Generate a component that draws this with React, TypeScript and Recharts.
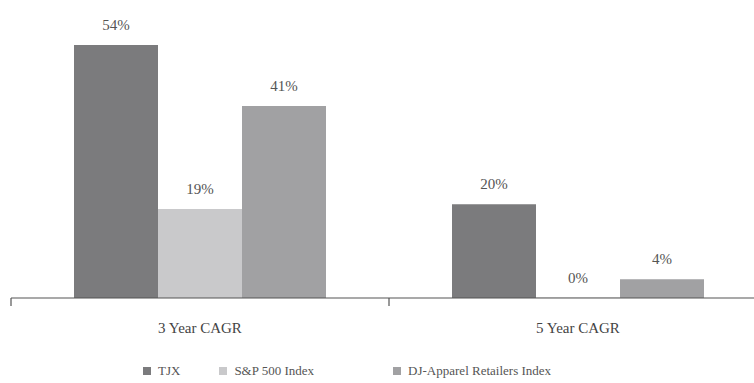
import React from 'react';
import { BarChart, Bar, XAxis, YAxis, LabelList } from 'recharts';

const periods = ['3 Year CAGR', '5 Year CAGR'];
const tjx = [54, 20];
const sp500 = [19, 0];
const djApparel = [41, 4];

const seriesNames = ['TJX', 'S&P 500 Index', 'DJ-Apparel Retailers Index'];
const seriesColors = ['#7b7b7d', '#c9c9cb', '#a1a1a3'];

const CHART_W = 772;
const CHART_H = 383;
const LEFT = 11;
const RIGHT = 5;
const FONT = '"Times New Roman", Times, "Liberation Serif", "DejaVu Serif", serif';

const data = periods.map((p, i) => ({
  period: p,
  tjx: tjx[i],
  sp500: sp500[i],
  dj: djApparel[i],
}));

const band = (CHART_W - LEFT - RIGHT) / periods.length;

const PeriodTick = (props: any) => {
  const { x, y, payload } = props;
  const left = x - band / 2;
  return (
    <g>
      <line x1={left} y1={y - 8} x2={left} y2={y} stroke="#555" strokeWidth={1.2} />
      <text x={x} y={y + 27} textAnchor="middle" fill="#444" fontSize={15} fontFamily={FONT}>
        {payload.value}
      </text>
    </g>
  );
};

const App: React.FC = () => {
  const keys = ['tjx', 'sp500', 'dj'];
  return (
    <div style={{ position: 'fixed', left: 0, top: 0, width: 754, height: 383, overflow: 'hidden', background: '#fff', fontFamily: FONT }}>
      <BarChart
        width={CHART_W}
        height={CHART_H}
        data={data}
        margin={{ top: 17, right: RIGHT, left: LEFT, bottom: 45 }}
        barCategoryGap={63}
        barGap={0}
      >
        <XAxis
          dataKey="period"
          axisLine={{ stroke: '#555', strokeWidth: 1.2 }}
          tickLine={false}
          tick={<PeriodTick />}
          interval={0}
          height={40}
        />
        <YAxis hide domain={[0, 60]} />
        {keys.map((k, i) => (
          <Bar key={k} dataKey={k} fill={seriesColors[i]} isAnimationActive={false} minPointSize={0.5}>
            <LabelList
              dataKey={k}
              position="top"
              offset={15}
              formatter={(v: any) => `${v}%`}
              style={{ fill: '#555', fontSize: 15, fontFamily: FONT }}
            />
          </Bar>
        ))}
      </BarChart>
      <div style={{ position: 'absolute', top: 363, left: 143, display: 'flex', fontSize: 13, color: '#555' }}>
        {seriesNames.map((n, i) => (
          <div key={n} style={{ display: 'flex', alignItems: 'center', marginRight: i === 0 ? 39 : 79 }}>
            <span style={{ width: 8, height: 8, background: seriesColors[i], display: 'inline-block', marginRight: 7 }} />
            <span>{n}</span>
          </div>
        ))}
      </div>
    </div>
  );
};

export default App;
